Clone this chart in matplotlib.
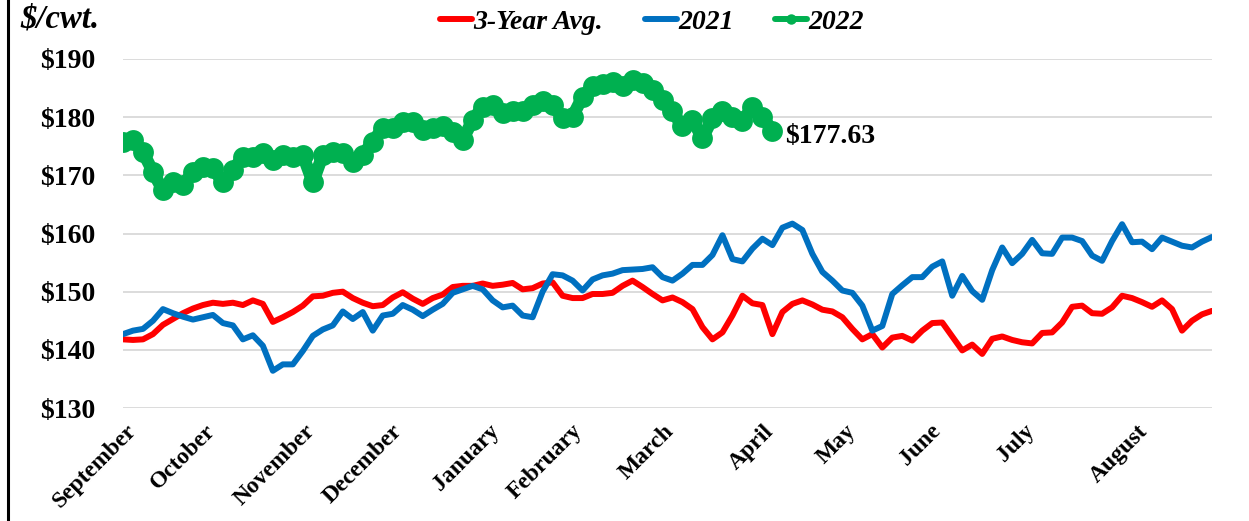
import numpy as np
import matplotlib
matplotlib.use("Agg")
import matplotlib.pyplot as plt
from matplotlib.lines import Line2D

plt.rcParams['font.family'] = ['Liberation Serif', 'DejaVu Serif']

# month labels and where they sit on the trading-period axis
month_labels = ['September', 'October', 'November', 'December', 'January', 'February',
                'March', 'April', 'May', 'June', 'July', 'August']
month_pos = [1.8, 9.7, 19.6, 28.4, 38.1, 46.4, 55.6, 65.6, 73.8, 82.3, 91.7, 103.0]

# 3-year average ($/cwt)
avg3 = [141.8, 141.7, 141.8, 142.7, 144.3, 145.3, 146.3, 147.1, 147.7, 148.1,
        147.9, 148.1, 147.7, 148.5, 147.9, 144.8, 145.6, 146.5, 147.6, 149.2,
        149.3, 149.8, 150.0, 148.9, 148.1, 147.5, 147.7,
        149.0, 149.9, 148.8, 147.9, 148.9, 149.5, 150.8, 151.0, 151.0, 151.4,
        151.0, 151.2, 151.5, 150.4, 150.6, 151.4, 151.6, 149.3, 148.9, 148.9,
        149.6, 149.6, 149.8, 151.0, 151.9, 150.8, 149.6,
        148.5, 149.0, 148.2, 147.0, 143.9, 141.8, 143.0, 145.9, 149.3, 148.0,
        147.7, 142.7, 146.5, 147.9, 148.5, 147.8, 146.9, 146.6, 145.6, 143.6,
        141.8, 142.7, 140.4, 142.1, 142.4, 141.6, 143.3,
        144.6, 144.7, 142.3, 139.9, 140.9, 139.3, 141.9, 142.3, 141.7, 141.3,
        141.1, 142.9, 143.0, 144.7, 147.4, 147.6, 146.3, 146.2, 147.3, 149.3,
        148.9, 148.2, 147.4, 148.5, 147.0, 143.3, 145.0, 146.1, 146.7]

# 2021 ($/cwt)
y2021 = [142.7, 143.3, 143.6, 145.0, 147.0, 146.3, 145.7, 145.2, 145.6, 146.0,
         144.6, 144.2, 141.8, 142.5, 140.7, 136.4, 137.5, 137.5, 139.8, 142.4,
         143.5, 144.2, 146.6, 145.3, 146.5, 143.3, 145.9,
         146.2, 147.7, 146.9, 145.8, 146.9, 147.9, 149.8, 150.4, 151.0, 150.4,
         148.5, 147.3, 147.6, 145.9, 145.6, 150.0, 153.0, 152.8, 151.9, 150.2,
         152.1, 152.8, 153.1, 153.7, 153.8, 153.9, 154.2,
         152.5, 151.9, 153.1, 154.6, 154.6, 156.3, 159.7, 155.6, 155.2, 157.4,
         159.1, 158.0, 161.0, 161.7, 160.6, 156.5, 153.4, 151.9, 150.2, 149.8,
         147.6, 143.3, 144.1, 149.6, 151.1, 152.5, 152.5,
         154.3, 155.2, 149.3, 152.7, 150.1, 148.6, 153.7, 157.6, 154.9, 156.5,
         158.9, 156.6, 156.5, 159.3, 159.3, 158.7, 156.2, 155.3, 158.7, 161.6,
         158.5, 158.6, 157.3, 159.3, 158.6, 157.9, 157.6, 158.6, 159.4]

# 2022 ($/cwt), through early April
y2022 = [175.8, 176.1, 174.0, 170.6, 167.4, 168.8, 168.3, 170.6, 171.4, 171.2,
         168.8, 170.9, 173.2, 173.2, 173.8, 172.6, 173.5, 173.2, 173.5, 168.8,
         173.5, 174.0, 173.8, 172.3, 173.5, 175.8, 178.1, 178.1, 179.2, 179.2,
         177.8, 178.1, 178.4,
         177.5, 176.1, 179.5, 181.8, 182.1, 180.7, 181.0, 181.0, 182.1, 182.7,
         182.1, 179.8, 180.1, 183.5, 185.3, 185.7, 186.1, 185.3, 186.4, 185.8,
         184.7, 183.0, 181.0, 178.4, 179.5, 176.4, 179.8, 181.1, 180.1, 179.3,
         181.8, 180.1, 177.63]

x_all = np.arange(len(avg3))
x22 = np.arange(len(y2022))

fig = plt.figure(figsize=(12.49, 5.21), dpi=100)
ax = fig.add_axes([123 / 1249, 1 - 408 / 521, (1212 - 123) / 1249, 349 / 521])

ax.plot(x_all, avg3, color='#FF0000', lw=4.3, solid_capstyle='round', label='3-Year Avg.', zorder=3)
ax.plot(x_all, y2021, color='#0070C0', lw=4.3, solid_capstyle='round', label='2021', zorder=3)
ax.plot(x22, y2022, color='#00B050', lw=9, marker='o', markersize=15,
        markeredgewidth=0, solid_capstyle='round', label='2022', zorder=4)

ax.annotate(f'${y2022[-1]:.2f}', xy=(x22[-1], y2022[-1]), xytext=(9, -4),
            textcoords='offset points', ha='left', va='center',
            fontsize=20, fontweight='bold',
            arrowprops=dict(arrowstyle='-', color='#a6a6a6', lw=0.8), zorder=2)

ax.set_xlim(0, len(avg3) - 1)
ax.set_ylim(130, 190)
ax.set_yticks(np.arange(130, 191, 10))
ax.set_yticklabels([f'${v}' for v in range(130, 191, 10)])
ax.set_xticks(month_pos)
ax.set_xticklabels(month_labels, rotation=45, ha='right')
ax.tick_params(axis='y', length=0, pad=20, labelsize=20)
ax.tick_params(axis='x', length=0, pad=9, labelsize=17)
for lab in ax.get_yticklabels() + ax.get_xticklabels():
    lab.set_fontweight('bold')

ax.grid(axis='y', color='#d9d9d9', lw=1.3)
ax.set_axisbelow(True)
for s in ax.spines.values():
    s.set_visible(False)

fig.text(20 / 1249, 1 - 19 / 521, '$/cwt.', fontsize=23.5, fontweight='bold',
         fontstyle='italic', va='center', ha='left')

leg = fig.legend(loc='center', bbox_to_anchor=(652 / 1249, 1 - 22 / 521), ncol=3,
                 frameon=False, handlelength=1.15, handletextpad=0.05,
                 columnspacing=1.5, markerscale=0.5,
                 prop={'size': 20, 'weight': 'bold', 'style': 'italic'})
for h in leg.legend_handles:
    h.set_linewidth(4.3)

# black rule down the left edge
fig.add_artist(Line2D([8 / 1249, 8 / 1249], [0, 1], color='black', lw=2.2))

fig.savefig('out.png', dpi=100)
